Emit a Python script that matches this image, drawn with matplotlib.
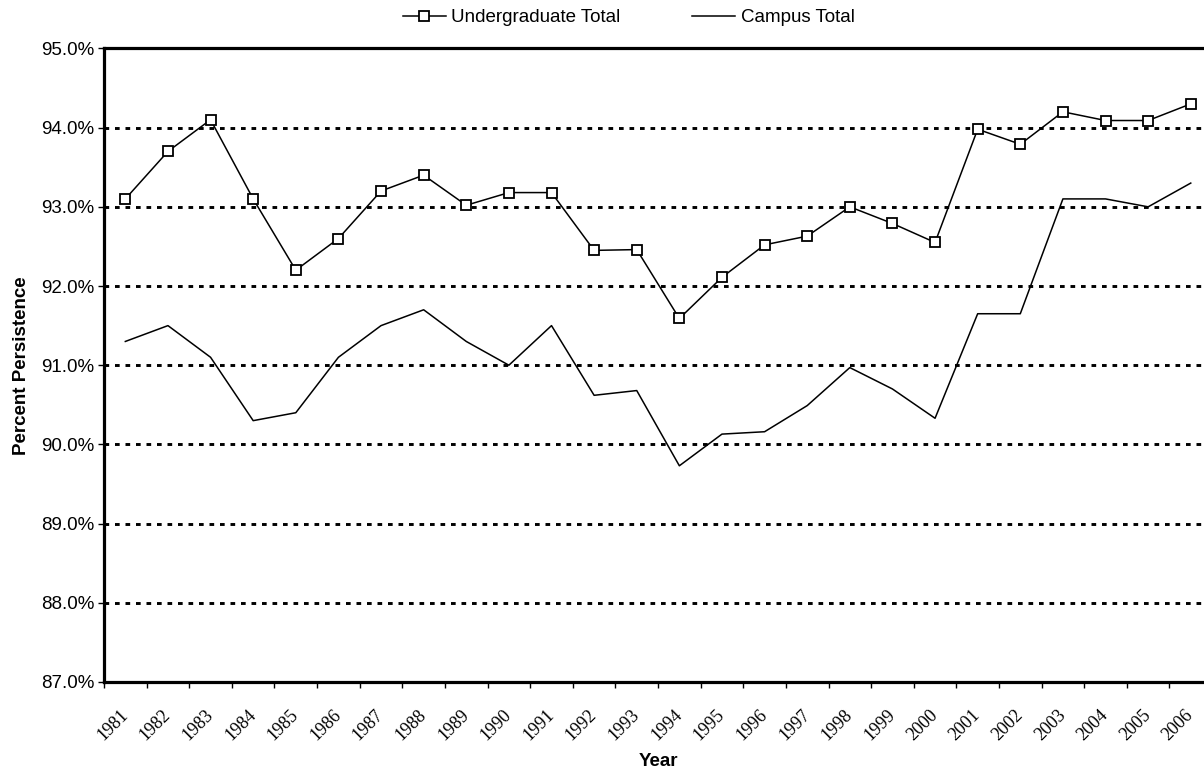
import numpy as np
import matplotlib
matplotlib.use('Agg')
import matplotlib.pyplot as plt
from matplotlib.ticker import FuncFormatter, FixedLocator

years = [str(y) for y in range(1981, 2007)]
undergrad = [93.1, 93.7, 94.1, 93.1, 92.2, 92.6, 93.2, 93.4, 93.02, 93.18,
             93.18, 92.45, 92.46, 91.59, 92.11, 92.52, 92.63, 93.0, 92.79, 92.55,
             93.98, 93.79, 94.2, 94.09, 94.09, 94.3]
campus = [91.3, 91.5, 91.1, 90.3, 90.4, 91.1, 91.5, 91.7, 91.3, 91.0,
          91.5, 90.62, 90.68, 89.73, 90.13, 90.16, 90.49, 90.97, 90.70, 90.33,
          91.65, 91.65, 93.1, 93.1, 93.0, 93.3]
y_ticks = [87, 88, 89, 90, 91, 92, 93, 94, 95]

plt.rcParams['font.family'] = ['Liberation Sans', 'DejaVu Sans']

fig = plt.figure(figsize=(12.04, 7.74), dpi=100)
ax = fig.add_axes([0.0864, 0.1189, 0.9203, 0.8185])

x = np.arange(len(years))
ax.plot(x, undergrad, color='black', lw=1.1, marker='s', ms=7.8,
        mfc='white', mec='black', mew=1.3, label='Undergraduate Total', zorder=4)
ax.plot(x, campus, color='black', lw=1.1, label='Campus Total', zorder=3)

ax.set_xlim(-0.5, len(years) - 0.5)
ax.set_ylim(87, 95)

# y axis
ax.set_yticks(y_ticks)
ax.yaxis.set_major_formatter(FuncFormatter(lambda v, p: '%.1f%%' % v))
ax.tick_params(axis='y', labelsize=13.5, length=4.2, width=1, pad=3)
ax.grid(axis='y', color='black', lw=2.1, linestyle=(0, (1.6, 2.0)))
ax.set_axisbelow(True)

# x axis: ticks between categories, labels at centres
ax.set_xticks(x)
ax.set_xticklabels(years, rotation=45, ha='right', va='center',
                   rotation_mode='anchor', family='Liberation Serif', fontsize=13)
ax.tick_params(axis='x', which='major', length=0, pad=22)
ax.xaxis.set_minor_locator(FixedLocator(np.arange(-0.5, len(years), 1)))
ax.tick_params(axis='x', which='minor', length=4.5, width=1)

for s in ax.spines.values():
    s.set_linewidth(2.3)
    s.set_color('black')

ax.set_ylabel('Percent Persistence', fontsize=13.5, fontweight='bold', labelpad=8)
ax.set_xlabel('Year', fontsize=13.5, fontweight='bold', labelpad=6)

fig.legend(loc='center', bbox_to_anchor=(0.522, 0.977), ncol=2, frameon=False,
           fontsize=13.5, handlelength=2.3, handletextpad=0.3, columnspacing=3.8,
           borderaxespad=0)

fig.savefig('out.png', dpi=100)
